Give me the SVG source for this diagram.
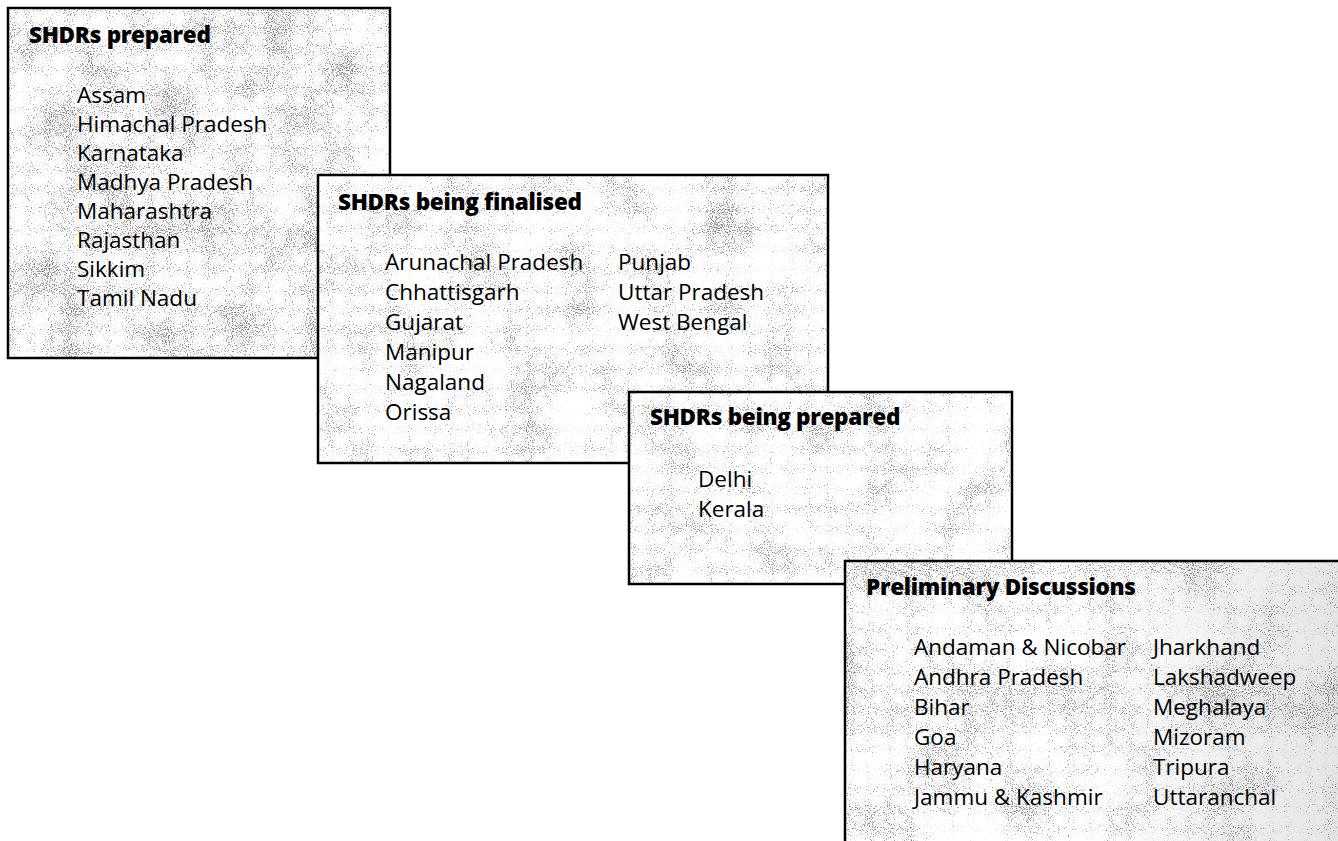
<svg xmlns="http://www.w3.org/2000/svg" width="1338" height="841" viewBox="0 0 1338 841">
<style>
  .border { fill: none; stroke: #000; stroke-width: 2.5; }
  .title { font-family: "Open Sans", "Noto Sans", sans-serif; font-weight: 800; font-size: 22.5px; fill: #000; letter-spacing: -0.3px; }
  .item { font-family: "Open Sans", "Noto Sans", sans-serif; font-weight: 500; font-size: 22.5px; fill: #000; }
</style>
<defs>
  <filter id="tex1" x="0" y="0" width="1" height="1" color-interpolation-filters="sRGB">
    <feTurbulence type="fractalNoise" baseFrequency="0.95" numOctaves="1" seed="2" result="f0"/>
    <feColorMatrix in="f0" type="matrix" values="1 0 0 0 0 1 0 0 0 0 1 0 0 0 0 0 0 0 0 1" result="fine"/>
    <feTurbulence type="fractalNoise" baseFrequency="0.02" numOctaves="2" seed="7" result="c0"/>
    <feColorMatrix in="c0" type="matrix" values="1 0 0 0 0 1 0 0 0 0 1 0 0 0 0 0 0 0 0 1" result="coarse"/>
    <feComposite in="fine" in2="coarse" operator="arithmetic" k1="0" k2="1" k3="0.4" k4="-0.16" result="mix"/>
    <feComponentTransfer in="mix">
      <feFuncR type="discrete" tableValues="0.4 0.45 0.5 0.65 0.92 1 1 1 1 1"/>
      <feFuncG type="discrete" tableValues="0.4 0.45 0.5 0.65 0.92 1 1 1 1 1"/>
      <feFuncB type="discrete" tableValues="0.4 0.45 0.5 0.65 0.92 1 1 1 1 1"/>
      <feFuncA type="linear" slope="0" intercept="1"/>
    </feComponentTransfer>
  </filter>
  <filter id="tex2" x="0" y="0" width="1" height="1" color-interpolation-filters="sRGB">
    <feTurbulence type="fractalNoise" baseFrequency="0.95" numOctaves="1" seed="11" result="f0"/>
    <feColorMatrix in="f0" type="matrix" values="1 0 0 0 0 1 0 0 0 0 1 0 0 0 0 0 0 0 0 1" result="fine"/>
    <feTurbulence type="fractalNoise" baseFrequency="0.02" numOctaves="2" seed="21" result="c0"/>
    <feColorMatrix in="c0" type="matrix" values="1 0 0 0 0 1 0 0 0 0 1 0 0 0 0 0 0 0 0 1" result="coarse"/>
    <feComposite in="fine" in2="coarse" operator="arithmetic" k1="0" k2="1" k3="0.4" k4="-0.11" result="mix"/>
    <feComponentTransfer in="mix">
      <feFuncR type="discrete" tableValues="0.4 0.45 0.5 0.65 0.92 1 1 1 1 1"/>
      <feFuncG type="discrete" tableValues="0.4 0.45 0.5 0.65 0.92 1 1 1 1 1"/>
      <feFuncB type="discrete" tableValues="0.4 0.45 0.5 0.65 0.92 1 1 1 1 1"/>
      <feFuncA type="linear" slope="0" intercept="1"/>
    </feComponentTransfer>
  </filter>
  <filter id="tex4" x="0" y="0" width="1" height="1" color-interpolation-filters="sRGB">
    <feTurbulence type="fractalNoise" baseFrequency="0.95" numOctaves="1" seed="31" result="f0"/>
    <feColorMatrix in="f0" type="matrix" values="1 0 0 0 0 1 0 0 0 0 1 0 0 0 0 0 0 0 0 1" result="fine"/>
    <feTurbulence type="fractalNoise" baseFrequency="0.015" numOctaves="2" seed="41" result="c0"/>
    <feColorMatrix in="c0" type="matrix" values="1 0 0 0 0 1 0 0 0 0 1 0 0 0 0 0 0 0 0 1" result="coarse"/>
    <feComposite in="fine" in2="coarse" operator="arithmetic" k1="0" k2="1" k3="0.4" k4="-0.14" result="mix"/>
    <feComponentTransfer in="mix">
      <feFuncR type="discrete" tableValues="0.4 0.45 0.5 0.65 0.92 1 1 1 1 1"/>
      <feFuncG type="discrete" tableValues="0.4 0.45 0.5 0.65 0.92 1 1 1 1 1"/>
      <feFuncB type="discrete" tableValues="0.4 0.45 0.5 0.65 0.92 1 1 1 1 1"/>
      <feFuncA type="linear" slope="0" intercept="1"/>
    </feComponentTransfer>
  </filter>
  <linearGradient id="shade4" x1="0" y1="0" x2="1" y2="0">
    <stop offset="0" stop-color="#808080" stop-opacity="0"/>
    <stop offset="0.45" stop-color="#808080" stop-opacity="0"/>
    <stop offset="1" stop-color="#808080" stop-opacity="0.22"/>
  </linearGradient>
</defs>
<rect x="0" y="0" width="1338" height="841" fill="#fff"/>

<g id="box-prepared">
  <rect x="8" y="8" width="382" height="350" fill="#e8e8e8" filter="url(#tex1)"/>
  <rect class="border" x="8" y="8" width="382" height="350"/>
  <text class="title" x="29" y="43">SHDRs prepared</text>
  <text class="item" x="77" y="103">Assam</text>
  <text class="item" x="77" y="132">Himachal Pradesh</text>
  <text class="item" x="77" y="161">Karnataka</text>
  <text class="item" x="77" y="190">Madhya Pradesh</text>
  <text class="item" x="77" y="219">Maharashtra</text>
  <text class="item" x="77" y="248">Rajasthan</text>
  <text class="item" x="77" y="277">Sikkim</text>
  <text class="item" x="77" y="306">Tamil Nadu</text>
</g>

<g id="box-finalised">
  <rect x="318" y="175" width="510" height="288" fill="#efefef" filter="url(#tex2)"/>
  <rect class="border" x="318" y="175" width="510" height="288"/>
  <text class="title" x="338" y="210">SHDRs being finalised</text>
  <text class="item" x="385" y="270">Arunachal Pradesh</text>
  <text class="item" x="385" y="300">Chhattisgarh</text>
  <text class="item" x="385" y="330">Gujarat</text>
  <text class="item" x="385" y="360">Manipur</text>
  <text class="item" x="385" y="390">Nagaland</text>
  <text class="item" x="385" y="420">Orissa</text>
  <text class="item" x="618" y="270">Punjab</text>
  <text class="item" x="618" y="300">Uttar Pradesh</text>
  <text class="item" x="618" y="330">West Bengal</text>
</g>

<g id="box-being-prepared">
  <rect x="629" y="392" width="383" height="192" fill="#efefef" filter="url(#tex2)"/>
  <rect class="border" x="629" y="392" width="383" height="192"/>
  <text class="title" x="650" y="425">SHDRs being prepared</text>
  <text class="item" x="698" y="487">Delhi</text>
  <text class="item" x="698" y="517">Kerala</text>
</g>

<g id="box-preliminary">
  <rect x="845" y="561" width="520" height="300" fill="#e4e4e4" filter="url(#tex4)"/>
  <rect x="845" y="561" width="520" height="300" fill="url(#shade4)"/>
  <rect class="border" x="845" y="561" width="520" height="300"/>
  <text class="title" x="866" y="595">Preliminary Discussions</text>
  <text class="item" x="914" y="655">Andaman &amp; Nicobar</text>
  <text class="item" x="914" y="685">Andhra Pradesh</text>
  <text class="item" x="914" y="715">Bihar</text>
  <text class="item" x="914" y="745">Goa</text>
  <text class="item" x="914" y="775">Haryana</text>
  <text class="item" x="914" y="805">Jammu &amp; Kashmir</text>
  <text class="item" x="1153" y="655">Jharkhand</text>
  <text class="item" x="1153" y="685">Lakshadweep</text>
  <text class="item" x="1153" y="715">Meghalaya</text>
  <text class="item" x="1153" y="745">Mizoram</text>
  <text class="item" x="1153" y="775">Tripura</text>
  <text class="item" x="1153" y="805">Uttaranchal</text>
</g>

<g id="connectors"></g>
</svg>
